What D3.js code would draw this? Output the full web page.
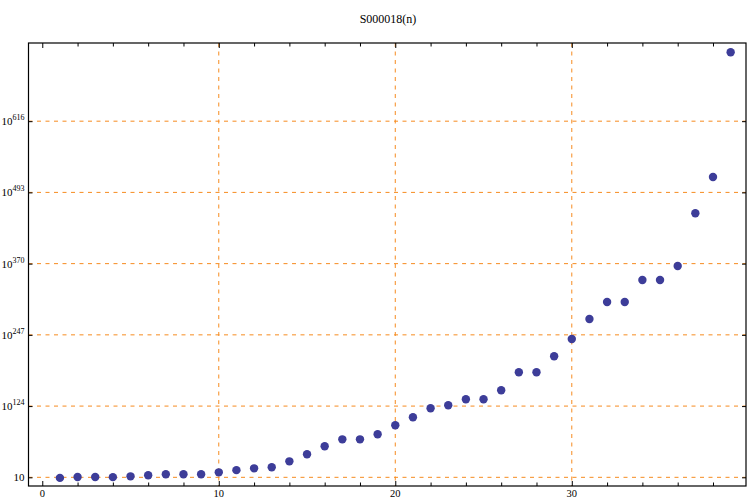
<!DOCTYPE html>
<html>
<head>
<meta charset="utf-8">
<script src="https://cdn.jsdelivr.net/npm/d3@7/dist/d3.min.js"></script>
<style>
  body { margin: 0; background: #fff; }
  svg { display: block; }
  text { font-family: "Liberation Serif", "DejaVu Serif", serif; fill: #000; }
</style>
</head>
<body>
<svg id="chart" width="750" height="501"></svg>
<script>
// Data: n and log10 of S000018(n)
const nValues = d3.range(1, 40);
const log10Values = [
  0, 1.5, 1.5, 1.3, 2.7, 4.5, 6.2, 6.2, 6.2, 9.6,
  13.4, 16.5, 18.3, 28.6, 40.7, 54.6, 66.6, 66.6, 75.3, 90.8,
  104.6, 120.2, 125.4, 135.7, 135.7, 151.3, 182.4, 182.4, 210, 239.9,
  274.5, 303.8, 303.8, 341.8, 341.8, 366, 457, 519.7, 735
];
const xTickValues = [0, 10, 20, 30];
const xMinorTickValues = d3.range(0, 40, 2);
const yTickExponents = [1, 124, 247, 370, 493, 616];
const title = "S000018(n)";

const svg = d3.select("#chart");
const pLeft = 28.5, pRight = 746, pTop = 43, pBottom = 486;

const x = d3.scaleLinear().domain([-0.78, 39.87]).range([pLeft, pRight]);
const y = d3.scaleLinear().domain([-14.0, 751]).range([pBottom, pTop]);

const gridColor = "#f68b1f";

// grid lines
const grid = svg.append("g");
grid.selectAll("line.gx").data(xTickValues.filter(v => v > 0)).enter().append("line")
  .attr("x1", d => x(d)).attr("x2", d => x(d))
  .attr("y1", pTop).attr("y2", pBottom)
  .attr("stroke", gridColor).attr("stroke-width", 1).attr("stroke-dasharray", "4,4.5");
grid.selectAll("line.gy").data(yTickExponents).enter().append("line")
  .attr("x1", pLeft).attr("x2", pRight)
  .attr("y1", d => y(d)).attr("y2", d => y(d))
  .attr("stroke", gridColor).attr("stroke-width", 1).attr("stroke-dasharray", "4,4.5");

// points
svg.append("g").selectAll("circle").data(nValues).enter().append("circle")
  .attr("cx", d => x(d))
  .attr("cy", (d, i) => y(log10Values[i]))
  .attr("r", 4.2)
  .attr("fill", "#3d3d99");

// frame
svg.append("rect")
  .attr("x", pLeft).attr("y", pTop)
  .attr("width", pRight - pLeft).attr("height", pBottom - pTop)
  .attr("fill", "none").attr("stroke", "#000").attr("stroke-width", 1.2);

// ticks via axes (inward)
const isMajor = v => v % 10 === 0;
const bottomAxis = d3.axisTop(x).tickValues(xMinorTickValues).tickSize(0).tickFormat("");
const gb = svg.append("g").attr("transform", `translate(0,${pBottom})`).call(bottomAxis);
gb.select(".domain").remove();
gb.selectAll(".tick line").attr("y2", d => isMajor(d) ? -5 : -3.5).attr("stroke", "#000");

const topAxis = d3.axisBottom(x).tickValues(xMinorTickValues).tickSize(0).tickFormat("");
const gt = svg.append("g").attr("transform", `translate(0,${pTop})`).call(topAxis);
gt.select(".domain").remove();
gt.selectAll(".tick line").attr("y2", d => isMajor(d) ? 5 : 3.5).attr("stroke", "#000");

const leftAxis = d3.axisRight(y).tickValues(yTickExponents).tickSize(4).tickFormat("");
const gl = svg.append("g").attr("transform", `translate(${pLeft},0)`).call(leftAxis);
gl.select(".domain").remove();
gl.selectAll(".tick line").attr("stroke", "#000");

const rightAxis = d3.axisLeft(y).tickValues(yTickExponents).tickSize(4).tickFormat("");
const gr = svg.append("g").attr("transform", `translate(${pRight},0)`).call(rightAxis);
gr.select(".domain").remove();
gr.selectAll(".tick line").attr("stroke", "#000");

// x tick labels
svg.append("g").selectAll("text").data(xTickValues).enter().append("text")
  .attr("x", d => x(d)).attr("y", pBottom + 11)
  .attr("text-anchor", "middle").attr("font-size", 10.5)
  .text(d => d);

// y tick labels
const yl = svg.append("g").selectAll("text").data(yTickExponents).enter().append("text")
  .attr("x", pLeft - 4).attr("y", d => y(d) + 4)
  .attr("text-anchor", "end").attr("font-size", 11);
yl.each(function(d) {
  const t = d3.select(this);
  if (d === 1) { t.text("10"); return; }
  t.append("tspan").text("10");
  t.append("tspan").attr("font-size", 8).attr("dy", -5).text(d);
});

// title
svg.append("text").attr("x", 388).attr("y", 23)
  .attr("text-anchor", "middle").attr("font-size", 12)
  .text(title);
</script>
</body>
</html>
